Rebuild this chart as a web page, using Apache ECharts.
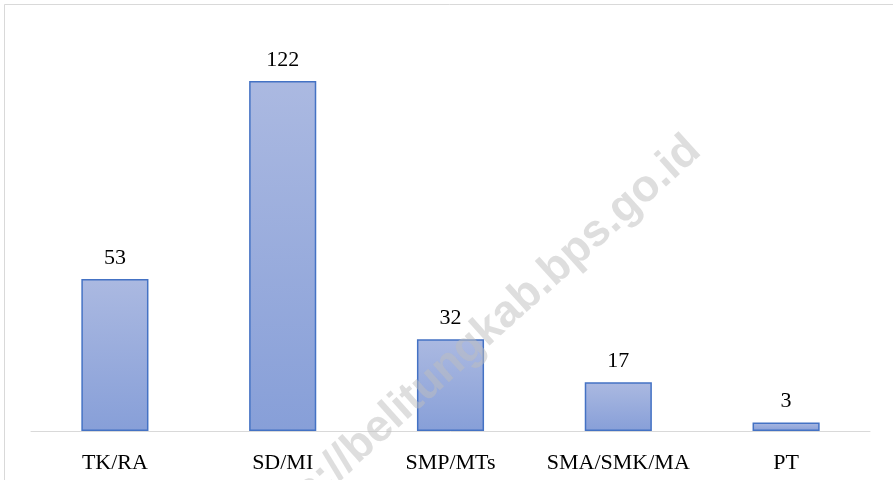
<!DOCTYPE html>
<html>
<head>
<meta charset="utf-8">
<script src="https://cdn.jsdelivr.net/npm/echarts@6/dist/echarts.min.js"></script>
<style>
  html, body { margin: 0; padding: 0; background: #fff; }
  #chart { width: 893px; height: 480px; }
</style>
</head>
<body>
<div id="chart"></div>
<script>
// jenjang pendidikan
const categories = ['TK/RA', 'SD/MI', 'SMP/MTs', 'SMA/SMK/MA', 'PT']
const values = [53, 122, 32, 17, 3]
const watermark = 'https://belitungkab.bps.go.id'

const myChart = echarts.init(document.getElementById('chart'))

const option = {
    animation: false,
    backgroundColor: '#fff',
    grid: {
        top: 29.4,
        left: 31,
        right: 23,
        bottom: 49
    },
    xAxis: {
        type: 'category',
        data: categories,
        axisLine: {
            show: true,
            lineStyle: { color: '#d9d9d9', width: 1 }
        },
        axisTick: { show: false },
        axisLabel: {
            interval: 0,
            color: '#000',
            fontFamily: 'Liberation Serif',
            fontSize: 22,
            margin: 21
        }
    },
    yAxis: {
        type: 'value',
        min: 0,
        max: 140,
        show: false,
        splitLine: { show: false }
    },
    graphic: [
        {
            // bingkai luar
            type: 'rect',
            shape: { x: 4.5, y: 4.5, width: 1000, height: 1000 },
            style: { fill: 'none', stroke: '#d9d9d9', lineWidth: 1 },
            silent: true,
            z: 0
        },
        {
            type: 'text',
            x: 466,
            y: 350,
            rotation: 42 * Math.PI / 180,
            style: {
                text: watermark,
                fill: 'rgba(190,190,190,0.5)',
                font: 'bold 45px "Liberation Sans"',
                textAlign: 'center',
                textVerticalAlign: 'middle'
            },
            silent: true,
            z: 100
        }
    ],
    series: [{
        type: 'bar',
        data: values,
        barWidth: '40%',
        itemStyle: {
            color: new echarts.graphic.LinearGradient(0, 0, 0, 1, [
                { offset: 0, color: '#abb9e1' },
                { offset: 1, color: '#879fd8' }
            ], false),
            borderColor: '#4472c4',
            borderWidth: 1.5
        },
        label: {
            show: true,
            position: 'top',
            distance: 10,
            color: '#000',
            fontFamily: 'Liberation Serif',
            fontSize: 22
        }
    }]
}
myChart.setOption(option)
</script>
</body>
</html>
